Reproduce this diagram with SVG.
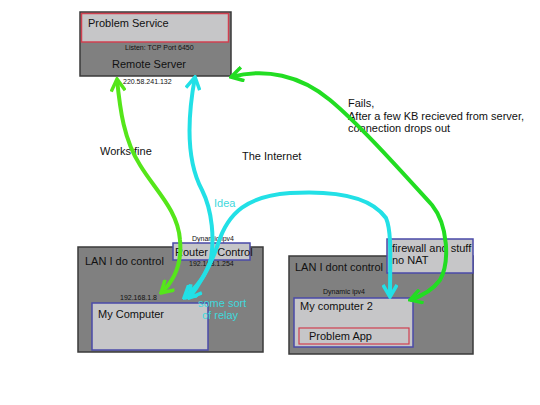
<svg xmlns="http://www.w3.org/2000/svg" width="540" height="405" viewBox="0 0 540 405">
<style>
text{font-family:"Liberation Sans",Arial,sans-serif;fill:#111;}
.t{font-size:11px;}
.s{font-size:7px;}
.zone{fill:#808080;stroke:#3a3a3a;stroke-width:1.5;}
.box{fill:#c6c6c8;stroke:#4a4aa8;stroke-width:1.5;}
.red{fill:#c6c6c8;stroke:#d04050;stroke-width:1.5;}
.redin{fill:none;stroke:#d04050;stroke-width:1.2;}
.cy{fill:#3fd8dc;}
.g1{fill:none;stroke:#55e61a;stroke-width:4;}
.g2{fill:none;stroke:#22dd22;stroke-width:4;}
.c{fill:none;stroke:#22e0e6;stroke-width:4;}
</style>
<defs>
<marker id="ag1" markerUnits="userSpaceOnUse" viewBox="-2 -8 16 16" refX="12" refY="0" markerWidth="16" markerHeight="16" orient="auto-start-reverse"><path d="M0,-7 L12,0 L0,7" fill="none" stroke="#55e61a" stroke-width="3.5"/></marker>
<marker id="ag2" markerUnits="userSpaceOnUse" viewBox="-2 -8 16 16" refX="12" refY="0" markerWidth="16" markerHeight="16" orient="auto-start-reverse"><path d="M0,-7 L12,0 L0,7" fill="none" stroke="#22dd22" stroke-width="3.5"/></marker>
<marker id="ac" markerUnits="userSpaceOnUse" viewBox="-2 -8 16 16" refX="12" refY="0" markerWidth="16" markerHeight="16" orient="auto-start-reverse"><path d="M0,-7 L12,0 L0,7" fill="none" stroke="#22e0e6" stroke-width="3.5"/></marker>
</defs>
<rect width="540" height="405" fill="#fff"/>

<g id="remote-server">
<rect class="zone" x="80" y="12" width="151" height="64"/>
<rect class="red" x="81.5" y="13.5" width="147" height="28.5"/>
<text class="t" x="88" y="27">Problem Service</text>
<text class="s" x="125" y="50">Listen: TCP Port 6450</text>
<text class="t" x="112" y="68">Remote Server</text>
<text class="s" x="123" y="84">220.58.241.132</text>
</g>

<g id="lan-control">
<rect class="zone" x="78" y="247" width="185" height="105"/>
<text class="t" x="85" y="265">LAN I do control</text>
</g>

<g id="router">
<text class="s" x="192" y="241">Dynamic ipv4</text>
<rect class="box" x="173" y="243" width="77" height="17"/>
<text class="t" x="175" y="256">Router I Control</text>
<text class="s" x="189" y="266">192.168.1.254</text>
</g>

<g id="my-computer">
<text class="s" x="120" y="300">192.168.1.8</text>
<rect class="box" x="92" y="303" width="116" height="47"/>
<text class="t" x="98" y="318">My Computer</text>
</g>

<g id="lan-nocontrol">
<rect class="zone" x="289" y="256" width="184" height="98"/>
<text class="t" x="295" y="271">LAN I dont control</text>
</g>

<g id="firewall">
<rect class="box" x="387" y="239" width="86" height="34"/>
<text class="t" x="392" y="252">firewall and stuff</text>
<text class="t" x="392" y="264">no NAT</text>
</g>

<g id="my-computer-2">
<text class="s" x="323" y="294">Dynamic ipv4</text>
<rect class="box" x="294" y="298" width="119" height="49"/>
<text class="t" x="300" y="310">My computer 2</text>
<rect class="redin" x="299" y="328" width="110" height="16"/>
<text class="t" x="309" y="340">Problem App</text>
</g>

<g id="labels">
<text class="t" x="100" y="155">Works fine</text>
<text class="t" x="242" y="160">The Internet</text>
<text class="t" x="348" y="107">Fails,</text>
<text class="t" x="348" y="120">After a few KB recieved from server,</text>
<text class="t" x="348" y="132">connection drops out</text>
<text class="t cy" x="214" y="207">Idea</text>
<text class="t cy" x="198" y="307">some sort</text>
<text class="t cy" x="202" y="319">of relay</text>
</g>

<g id="connectors">
<path class="g1" d="M117,79 C120,110 124,140 140,165 C155,190 178,210 180,240 C182,262 175,280 161,293" marker-start="url(#ag1)" marker-end="url(#ag1)"/>
<path class="c" d="M195,77 C187,120 186,160 202,190 C213,212 214,240 211,258 C207,274 196,288 184,298" marker-start="url(#ac)" marker-end="url(#ac)"/>
<path class="c" d="M189,298 C203,280 212,262 218,244 C228,212 248,196 290,193 C340,190 372,198 386,218 C392,232 390,260 390,297" marker-start="url(#ac)" marker-end="url(#ac)"/>
<path class="g2" d="M231,77 C265,68 300,75 330,100 C360,125 400,170 432,205 C448,225 450,262 440,280 C432,291 422,296 410,300" marker-start="url(#ag2)" marker-end="url(#ag2)"/>
</g>
</svg>
